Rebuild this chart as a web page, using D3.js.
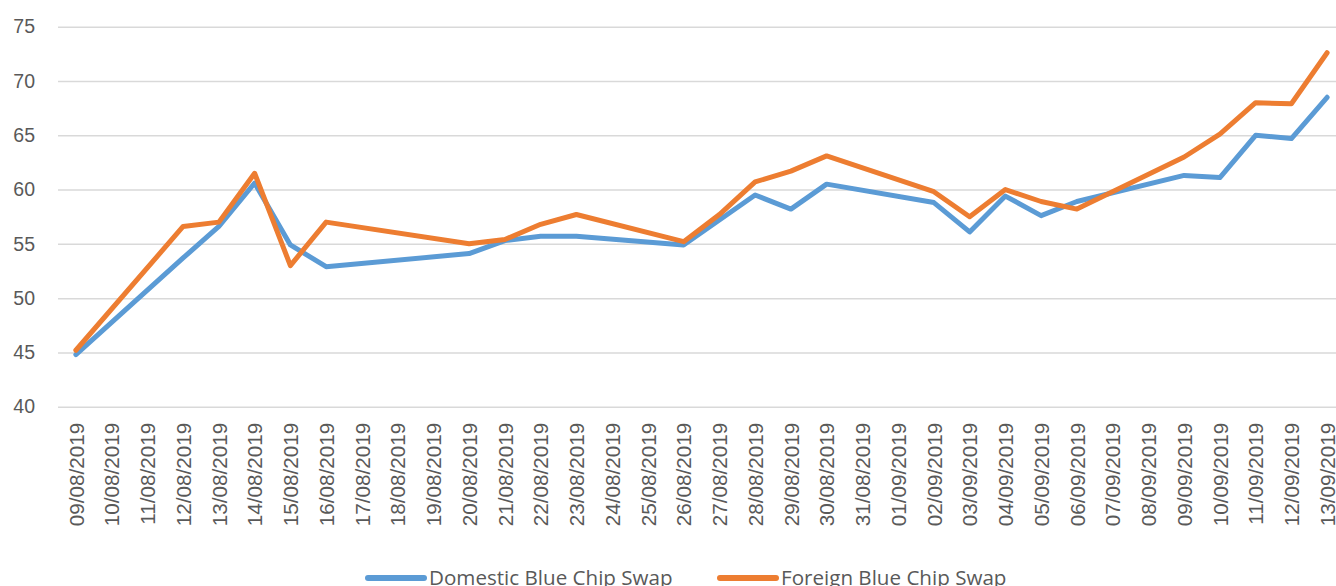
<!DOCTYPE html>
<html>
<head>
<meta charset="utf-8">
<script src="https://cdn.jsdelivr.net/npm/d3@7"></script>
<style>
  body { margin: 0; background: #fff; }
  svg { display: block; font-family: "Open Sans", sans-serif; }
</style>
</head>
<body>
<div id="wrapper"></div>
<script>
// every calendar day shown on the axis
const axisDates = [
    "09/08/2019", "10/08/2019", "11/08/2019", "12/08/2019", "13/08/2019", "14/08/2019",
    "15/08/2019", "16/08/2019", "17/08/2019", "18/08/2019", "19/08/2019", "20/08/2019",
    "21/08/2019", "22/08/2019", "23/08/2019", "24/08/2019", "25/08/2019", "26/08/2019",
    "27/08/2019", "28/08/2019", "29/08/2019", "30/08/2019", "31/08/2019", "01/09/2019",
    "02/09/2019", "03/09/2019", "04/09/2019", "05/09/2019", "06/09/2019", "07/09/2019",
    "08/09/2019", "09/09/2019", "10/09/2019", "11/09/2019", "12/09/2019", "13/09/2019"
];

// trading days with a value
const tradeDates = [
    "09/08/2019", "12/08/2019", "13/08/2019", "14/08/2019", "15/08/2019", "16/08/2019",
    "20/08/2019", "21/08/2019", "22/08/2019", "23/08/2019", "26/08/2019", "27/08/2019",
    "28/08/2019", "29/08/2019", "30/08/2019", "02/09/2019", "03/09/2019", "04/09/2019",
    "05/09/2019", "06/09/2019", "09/09/2019", "10/09/2019", "11/09/2019", "12/09/2019",
    "13/09/2019"
];

const domesticValues = [
    44.8, 53.7, 56.6, 60.6, 54.9, 52.9,
    54.1, 55.3, 55.7, 55.7, 54.9, 57.2,
    59.5, 58.2, 60.5, 58.8, 56.1, 59.4,
    57.6, 58.9, 61.3, 61.1, 65.0, 64.7,
    68.5
];

const foreignValues = [
    45.2, 56.6, 57.0, 61.5, 53.0, 57.0,
    55.0, 55.4, 56.8, 57.7, 55.2, 57.7,
    60.7, 61.7, 63.1, 59.8, 57.5, 60.0,
    58.9, 58.2, 63.0, 65.1, 68.0, 67.9,
    72.6
];

const yTicks = [40, 45, 50, 55, 60, 65, 70, 75];

const seriesNames = ["Domestic Blue Chip Swap", "Foreign Blue Chip Swap"];
const seriesColors = ["#5B9BD5", "#ED7D31"];

function buildPlot() {
    const dimension = {
        width: 1336,
        height: 586,
        plotLeft: 58,
        plotRight: 1345,
        plotTop: 26.7,
        plotBottom: 406.7
    };

    const svg = d3.select("#wrapper").append("svg")
        .attr("width", dimension.width)
        .attr("height", dimension.height);

    const xScaler = d3.scalePoint()
        .domain(axisDates)
        .range([dimension.plotLeft, dimension.plotRight])
        .padding(0.5);

    const yScaler = d3.scaleLinear()
        .domain([40, 75])
        .range([dimension.plotBottom, dimension.plotTop]);

    // gridlines + y labels
    const yAxis = d3.axisLeft(yScaler)
        .tickValues(yTicks)
        .tickSize(-(dimension.plotRight - dimension.plotLeft))
        .tickPadding(23);

    const yG = svg.append("g")
        .attr("transform", `translate(${dimension.plotLeft},0)`)
        .call(yAxis);
    yG.select(".domain").remove();
    yG.selectAll(".tick line")
        .attr("stroke", "#D9D9D9")
        .attr("stroke-width", 1.5);
    yG.selectAll(".tick text")
        .attr("fill", "#595959")
        .style("font-size", "19.5px");

    // x labels, rotated
    const xAxis = d3.axisBottom(xScaler).tickSize(0);
    const xG = svg.append("g")
        .attr("transform", `translate(0,${dimension.plotBottom})`)
        .call(xAxis);
    xG.select(".domain").remove();
    xG.selectAll(".tick text")
        .attr("fill", "#595959")
        .style("font-size", "20.7px")
        .attr("text-anchor", "end")
        .attr("transform", "rotate(-90)")
        .attr("x", -16)
        .attr("y", 0)
        .attr("dy", "0.35em");

    const series = [domesticValues, foreignValues].map((vals, i) => ({
        name: seriesNames[i],
        color: seriesColors[i],
        points: tradeDates.map((d, j) => ({ date: d, value: vals[j] }))
    }));

    const lineGenerator = d3.line()
        .x(d => xScaler(d.date))
        .y(d => yScaler(d.value));

    svg.selectAll(".series")
        .data(series)
        .join("path")
        .attr("class", "series")
        .attr("d", d => lineGenerator(d.points))
        .attr("fill", "none")
        .attr("stroke", d => d.color)
        .attr("stroke-width", 5)
        .attr("stroke-linejoin", "round")
        .attr("stroke-linecap", "round");

    // legend
    const legendX = [368, 720];
    const legend = svg.selectAll(".legend")
        .data(series)
        .join("g")
        .attr("class", "legend")
        .attr("transform", (d, i) => `translate(${legendX[i]},578)`);
    legend.append("line")
        .attr("x1", 0).attr("x2", 56)
        .attr("stroke", d => d.color)
        .attr("stroke-width", 6)
        .attr("stroke-linecap", "round");
    legend.append("text")
        .attr("x", 61)
        .attr("y", 7)
        .attr("fill", "#595959")
        .style("font-size", "20.6px")
        .text(d => d.name);
}

buildPlot();
</script>
</body>
</html>
